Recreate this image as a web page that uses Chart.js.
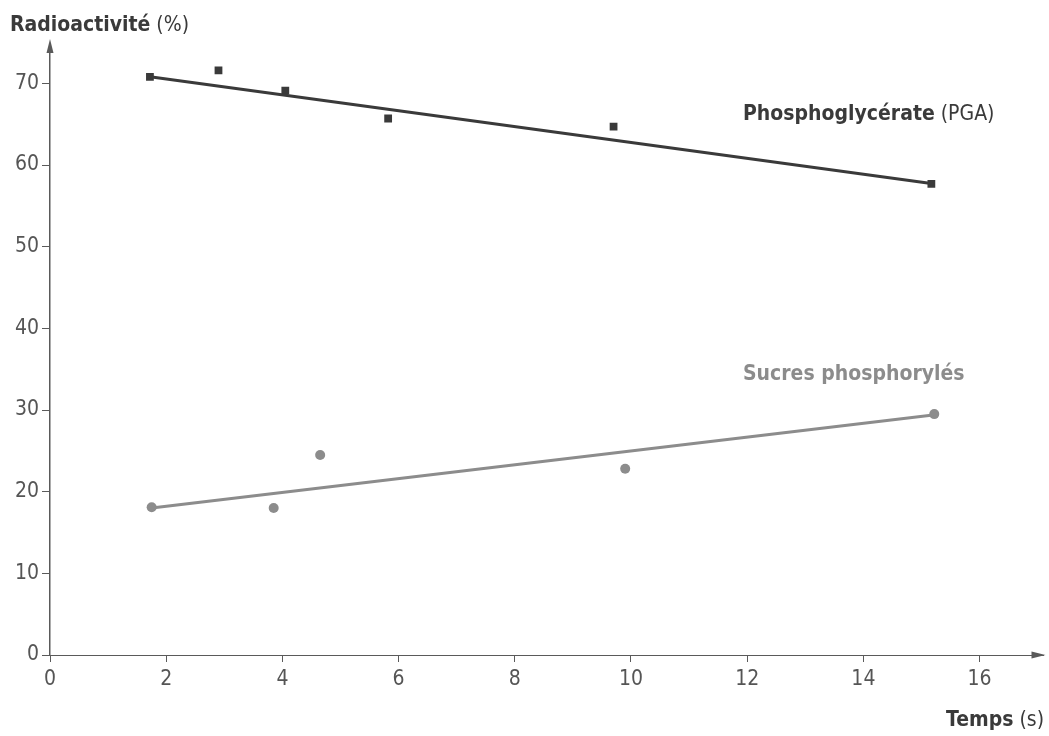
<!DOCTYPE html>
<html>
<head>
<meta charset="utf-8">
<script src="https://cdn.jsdelivr.net/npm/chart.js@4"></script>
<style>
  html, body { margin: 0; padding: 0; background: #fff; }
  #wrap { width: 1049px; height: 736px; }
</style>
</head>
<body>
<div id="wrap"><canvas id="chart" width="1049" height="736"></canvas></div>
<script>
// measured points (time in s, radioactivity in %)
const pgaTimes = [1.72, 2.9, 4.05, 5.82, 9.7, 15.17];
const pgaValues = [70.8, 71.6, 69.1, 65.7, 64.7, 57.7];
const sugarTimes = [1.75, 3.85, 4.65, 9.9, 15.22];
const sugarValues = [18.1, 18.0, 24.5, 22.8, 29.5];

// trend lines (start / end)
const pgaLineTimes = [1.72, 15.2];
const pgaLineValues = [70.8, 57.7];
const sugarLineTimes = [1.75, 15.2];
const sugarLineValues = [18.0, 29.4];

const xTicks = [0, 2, 4, 6, 8, 10, 12, 14, 16];
const yTicks = [0, 10, 20, 30, 40, 50, 60, 70];

const FONT = "'Liberation Sans Narrow', 'DejaVu Sans Condensed', 'Liberation Sans', sans-serif";
const dark = '#3a3a3a';
const grey = '#8c8c8c';
const axisCol = '#5a5a5a';

function pts(xs, ys) {
  return xs.map((x, i) => ({x: x, y: ys[i]}));
}

const labelsPlugin = {
  id: 'labels',
  afterDraw(chart) {
    const ctx = chart.ctx;
    const a = chart.chartArea;
    ctx.save();
    // axis arrows
    ctx.fillStyle = axisCol;
    ctx.beginPath();
    ctx.moveTo(a.left, a.top - 6);
    ctx.lineTo(a.left - 3.5, a.top + 8);
    ctx.lineTo(a.left + 3.5, a.top + 8);
    ctx.closePath();
    ctx.fill();
    ctx.beginPath();
    ctx.moveTo(a.right + 2, a.bottom);
    ctx.lineTo(a.right - 12, a.bottom - 3.5);
    ctx.lineTo(a.right - 12, a.bottom + 3.5);
    ctx.closePath();
    ctx.fill();
    // x axis extends a bit left of the y axis
    ctx.strokeStyle = axisCol;
    ctx.lineWidth = 1;
    ctx.beginPath();
    ctx.moveTo(a.left - 8, a.bottom + 0.5);
    ctx.lineTo(a.left, a.bottom + 0.5);
    ctx.stroke();

    ctx.textBaseline = 'alphabetic';
    function mixed(x, y, boldTxt, normTxt, color, size, align) {
      ctx.font = 'bold ' + size + 'px ' + FONT;
      const w1 = ctx.measureText(boldTxt).width;
      ctx.font = size + 'px ' + FONT;
      const w2 = normTxt ? ctx.measureText(' ' + normTxt).width : 0;
      let sx = align === 'right' ? x - w1 - w2 : x;
      ctx.fillStyle = color;
      ctx.textAlign = 'left';
      ctx.font = 'bold ' + size + 'px ' + FONT;
      ctx.fillText(boldTxt, sx, y);
      if (normTxt) {
        ctx.font = size + 'px ' + FONT;
        ctx.fillText(' ' + normTxt, sx + w1, y);
      }
    }
    mixed(10, 31, 'Radioactivité', '(%)', dark, 21, 'left');
    mixed(1044, 726, 'Temps', '(s)', dark, 21, 'right');
    mixed(743, 120, 'Phosphoglycérate', '(PGA)', dark, 21, 'left');
    mixed(743, 380, 'Sucres phosphorylés', '', grey, 21, 'left');
    ctx.restore();
  }
};

function keepTicks(list) {
  return function(scale) {
    scale.ticks = list.map(v => ({value: v}));
  };
}

new Chart(document.getElementById('chart').getContext('2d'), {
  type: 'scatter',
  data: {
    datasets: [
      {
        type: 'line',
        data: pts(pgaLineTimes, pgaLineValues),
        borderColor: dark,
        borderWidth: 3,
        pointRadius: 0,
        fill: false
      },
      {
        type: 'line',
        data: pts(sugarLineTimes, sugarLineValues),
        borderColor: grey,
        borderWidth: 3,
        pointRadius: 0,
        fill: false
      },
      {
        data: pts(pgaTimes, pgaValues),
        pointStyle: 'rect',
        pointRadius: 5.5,
        backgroundColor: dark,
        borderColor: dark,
        borderWidth: 0
      },
      {
        data: pts(sugarTimes, sugarValues),
        pointStyle: 'circle',
        pointRadius: 5,
        backgroundColor: grey,
        borderColor: grey,
        borderWidth: 0
      }
    ]
  },
  options: {
    responsive: false,
    animation: false,
    layout: { padding: { top: 45, right: 4, left: 0, bottom: 0 } },
    plugins: {
      legend: { display: false },
      tooltip: { enabled: false }
    },
    scales: {
      x: {
        type: 'linear',
        min: 0,
        max: 17.1,
        afterBuildTicks: keepTicks(xTicks),
        afterFit(scale) { scale.height = 81; },
        border: { display: true, color: axisCol, width: 1 },
        grid: { drawOnChartArea: false, drawTicks: true, tickLength: 7, color: axisCol },
        ticks: { color: '#555', font: { family: FONT, size: 21 }, padding: 5, maxRotation: 0 }
      },
      y: {
        type: 'linear',
        min: 0,
        max: 74.7,
        afterBuildTicks: keepTicks(yTicks),
        afterFit(scale) { scale.width = 50; },
        border: { display: true, color: axisCol, width: 1.5 },
        grid: { drawOnChartArea: false, drawTicks: true, tickLength: 8, color: axisCol },
        ticks: { color: '#555', font: { family: FONT, size: 21 }, padding: 3 }
      }
    }
  },
  plugins: [labelsPlugin]
});
</script>
</body>
</html>
